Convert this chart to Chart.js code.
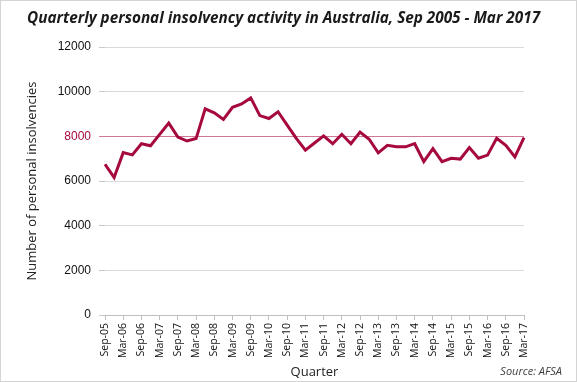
<!DOCTYPE html>
<html>
<head>
<meta charset="utf-8">
<script src="https://cdn.jsdelivr.net/npm/chart.js@4/dist/chart.umd.min.js"></script>
<style>
  html, body { margin: 0; padding: 0; background: #fff; }
  #wrap { width: 577px; height: 382px; position: relative; }
</style>
</head>
<body>
<div id="wrap"><canvas id="c" width="577" height="382"></canvas></div>
<script>
const chartTitle = "Quarterly personal insolvency activity in Australia, Sep 2005 - Mar 2017";
const sourceText = "Source: AFSA";
const xAxisTitle = "Quarter";
const yAxisTitle = "Number of personal insolvencies";

const quarters = [
  "Sep-05","Dec-05",
  "Mar-06","Jun-06","Sep-06","Dec-06",
  "Mar-07","Jun-07","Sep-07","Dec-07",
  "Mar-08","Jun-08","Sep-08","Dec-08",
  "Mar-09","Jun-09","Sep-09","Dec-09",
  "Mar-10","Jun-10","Sep-10","Dec-10",
  "Mar-11","Jun-11","Sep-11","Dec-11",
  "Mar-12","Jun-12","Sep-12","Dec-12",
  "Mar-13","Jun-13","Sep-13","Dec-13",
  "Mar-14","Jun-14","Sep-14","Dec-14",
  "Mar-15","Jun-15","Sep-15","Dec-15",
  "Mar-16","Jun-16","Sep-16","Dec-16",
  "Mar-17"
];

const insolvencies = [
  6750, 6160,
  7270, 7170, 7670, 7580,
  8090, 8590, 7970, 7790,
  7900, 9230, 9050, 8760,
  9300, 9450, 9720, 8930,
  8800, 9100, 8500, 7910,
  7380, 7700, 8020, 7670,
  8090, 7670, 8190, 7870,
  7260, 7600, 7530, 7530,
  7670, 6870, 7450, 6870,
  7020, 6980, 7500, 7020,
  7160, 7910, 7600, 7080,
  7940
];

const yMin = 0, yMax = 12000, yStep = 2000;
const highlightValue = 8000;

const maroon = '#a6093d';

const decorPlugin = {
  id: 'decor',
  beforeDraw(chart) {
    const ctx = chart.ctx;
    ctx.save();
    ctx.fillStyle = '#ffffff';
    ctx.fillRect(0, 0, chart.width, chart.height);
    ctx.strokeStyle = '#d4d4d4';
    ctx.lineWidth = 1;
    ctx.strokeRect(0.5, 0.5, chart.width - 1, chart.height - 1);
    ctx.restore();
  },
  afterDraw(chart) {
    const ctx = chart.ctx;
    ctx.save();
    ctx.fillStyle = '#1a1a1a';
    ctx.font = 'italic bold 15.3px "Open Sans"';
    ctx.textAlign = 'left';
    ctx.textBaseline = 'middle';
    ctx.fillText(chartTitle, 27, 19);
    ctx.fillStyle = '#404040';
    ctx.font = 'italic 11px "Open Sans"';
    ctx.textAlign = 'right';
    ctx.fillText(sourceText, 562, 372);
    ctx.restore();
  }
};

new Chart(document.getElementById('c'), {
  type: 'line',
  data: {
    labels: quarters,
    datasets: [{
      data: insolvencies,
      borderColor: maroon,
      borderWidth: 3,
      pointRadius: 0,
      tension: 0,
      fill: false
    }]
  },
  options: {
    responsive: false,
    animation: false,
    devicePixelRatio: 1,
    layout: { padding: { left: 24, right: 53, top: 47, bottom: 0 } },
    plugins: {
      legend: { display: false },
      title: { display: false },
      tooltip: { enabled: false }
    },
    scales: {
      x: {
        type: 'category',
        offset: false,
        grid: {
          display: true,
          drawOnChartArea: false,
          drawTicks: true,
          tickLength: 5,
          tickColor: (c) => (c.index % 2 === 0 ? '#bfbfbf' : 'rgba(0,0,0,0)')
        },
        border: { display: true, color: '#bfbfbf', width: 1 },
        ticks: {
          autoSkip: false,
          minRotation: 90,
          maxRotation: 90,
          padding: 3,
          color: '#111',
          font: { family: 'Open Sans', size: 10.5 },
          callback: function(v, i) { return i % 2 === 0 ? this.getLabelForValue(v) : ''; }
        },
        title: {
          display: true,
          text: xAxisTitle,
          color: '#222',
          font: { family: 'Open Sans', size: 13 },
          padding: { top: 0, bottom: 2 }
        },
        afterFit(scale) { scale.height = 67; }
      },
      y: {
        min: yMin,
        max: yMax,
        grid: {
          color: (c) => (c.tick && c.tick.value === highlightValue ? 'rgba(166,9,61,0.55)' : '#d9d9d9'),
          tickColor: (c) => (c.tick && c.tick.value === highlightValue ? 'rgba(166,9,61,0.55)' : '#c8c8c8'),
          lineWidth: 1,
          drawTicks: true,
          tickLength: 6
        },
        border: { display: false },
        ticks: {
          stepSize: yStep,
          padding: 8,
          color: (c) => (c.tick && c.tick.value === highlightValue ? maroon : '#111'),
          font: { family: 'Liberation Sans', size: 12 },
          callback: (v) => String(v)
        },
        title: {
          display: true,
          text: yAxisTitle,
          color: '#222',
          font: { family: 'Open Sans', size: 13 },
          padding: { top: 0, bottom: 0 }
        },
        afterFit(scale) { scale.width = 81; }
      }
    }
  },
  plugins: [decorPlugin]
});
</script>
</body>
</html>
